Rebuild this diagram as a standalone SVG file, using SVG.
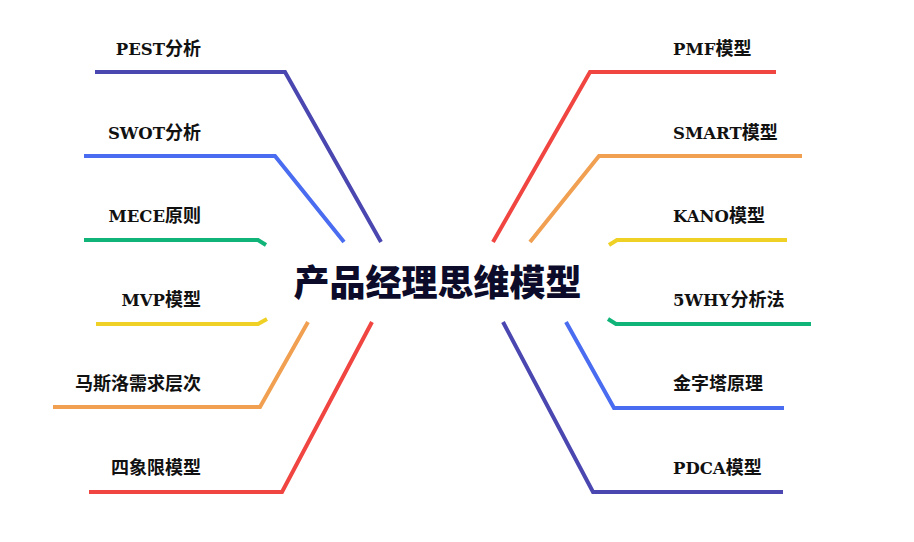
<svg xmlns="http://www.w3.org/2000/svg" width="914" height="542" viewBox="0 0 914 542">
<style>
.lbl{font-family:"DejaVu Serif","Noto Sans CJK SC",serif;font-weight:bold;font-size:18px;fill:#111}
.lat{font-size:16.5px}
.l{text-anchor:end}
.ln{fill:none;stroke-width:4;stroke-linejoin:miter}
.title{font-family:"Noto Sans CJK SC","Noto Sans",sans-serif;font-weight:900;font-size:36px;fill:#0c0c2a;text-anchor:middle}
</style>
<rect width="914" height="542" fill="#fff"/>
<g id="connectors">
<polyline class="ln" stroke="#4b47b1" points="95,72 285,72 381,242"/>
<polyline class="ln" stroke="#4a6cf0" points="84,156 275,156 344,242"/>
<polyline class="ln" stroke="#10b478" points="84,240 258,240 266,245"/>
<polyline class="ln" stroke="#efd125" points="96,324 258,324 267,319"/>
<polyline class="ln" stroke="#f0a050" points="308,322 260,407 53,407"/>
<polyline class="ln" stroke="#f04540" points="372,322 282,492 89,492"/>
<polyline class="ln" stroke="#f04540" points="493,242 590,72 776,72"/>
<polyline class="ln" stroke="#f0a050" points="530,242 599,156 802,156"/>
<polyline class="ln" stroke="#efd125" points="609,245 617,240 787,240"/>
<polyline class="ln" stroke="#10b478" points="608,319 616,324 811,324"/>
<polyline class="ln" stroke="#4a6cf0" points="566,322 614,408 784,408"/>
<polyline class="ln" stroke="#4b47b1" points="503,322 593,492 783,492"/>
</g>
<g id="center"><text class="title" x="437.5" y="296">产品经理思维模型</text></g>
<g id="n-pest"><text class="lbl l" x="201" y="55"><tspan class="lat">PEST</tspan>分析</text></g>
<g id="n-swot"><text class="lbl l" x="201" y="139"><tspan class="lat">SWOT</tspan>分析</text></g>
<g id="n-mece"><text class="lbl l" x="201" y="222"><tspan class="lat">MECE</tspan>原则</text></g>
<g id="n-mvp"><text class="lbl l" x="201" y="306"><tspan class="lat">MVP</tspan>模型</text></g>
<g id="n-maslow"><text class="lbl l" x="201" y="390">马斯洛需求层次</text></g>
<g id="n-quad"><text class="lbl l" x="201" y="474">四象限模型</text></g>
<g id="n-pmf"><text class="lbl" x="673" y="55"><tspan class="lat">PMF</tspan>模型</text></g>
<g id="n-smart"><text class="lbl" x="673" y="139"><tspan class="lat">SMART</tspan>模型</text></g>
<g id="n-kano"><text class="lbl" x="673" y="222"><tspan class="lat">KANO</tspan>模型</text></g>
<g id="n-5why"><text class="lbl" x="673" y="306"><tspan class="lat">5WHY</tspan>分析法</text></g>
<g id="n-pyramid"><text class="lbl" x="673" y="390">金字塔原理</text></g>
<g id="n-pdca"><text class="lbl" x="673" y="474"><tspan class="lat">PDCA</tspan>模型</text></g>
</svg>
